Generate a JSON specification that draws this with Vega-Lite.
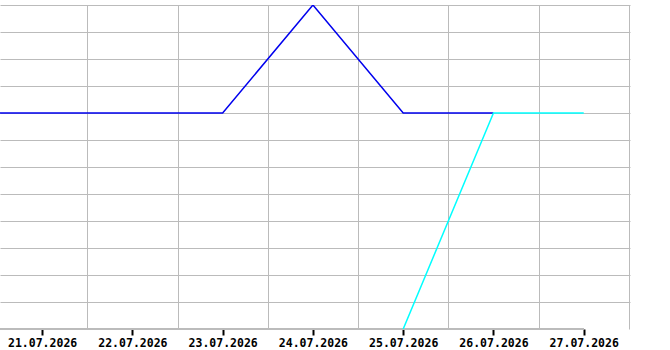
{
  "$schema": "https://vega.github.io/schema/vega-lite/v6.json",
  "width": 630,
  "height": 324,
  "autosize": {"type": "none"},
  "padding": {"left": 0, "top": 5, "right": 40, "bottom": 21},
  "background": "white",
  "config": {
    "view": {"stroke": null},
    "axis": {
      "gridColor": "#bbbbbb",
      "gridWidth": 1,
      "gridOpacity": 1,
      "labelFont": "DejaVu Sans Mono",
      "labelFontWeight": "bold",
      "labelFontSize": 11.5,
      "labelColor": "#000000",
      "tickColor": "#000000",
      "tickSize": 6,
      "tickWidth": 2,
      "labelPadding": 2,
      "title": null
    }
  },
  "datasets": {
    "series": [
      {"date": "2026-07-20T00:00:00Z", "value": 8, "series": "A"},
      {"date": "2026-07-21T00:00:00Z", "value": 8, "series": "A"},
      {"date": "2026-07-22T00:00:00Z", "value": 8, "series": "A"},
      {"date": "2026-07-23T00:00:00Z", "value": 8, "series": "A"},
      {"date": "2026-07-24T00:00:00Z", "value": 12, "series": "A"},
      {"date": "2026-07-25T00:00:00Z", "value": 8, "series": "A"},
      {"date": "2026-07-26T00:00:00Z", "value": 8, "series": "A"},
      {"date": "2026-07-25T00:00:00Z", "value": 0, "series": "B"},
      {"date": "2026-07-26T00:00:00Z", "value": 8, "series": "B"},
      {"date": "2026-07-27T00:00:00Z", "value": 8, "series": "B"}
    ]
  },
  "resolve": {"axis": {"x": "independent"}},
  "layer": [
    {
      "data": {"name": "series"},
      "mark": {"type": "rule", "color": "#bbbbbb", "strokeWidth": 1},
      "encoding": {
        "x": {
          "datum": {"year": 2026, "month": 7, "date": 20, "utc": true},
          "type": "temporal",
          "scale": {
            "type": "utc",
            "domain": [
              {"year": 2026, "month": 7, "date": 20, "hours": 12, "minutes": 48, "utc": true},
              {"year": 2026, "month": 7, "date": 27, "hours": 12, "minutes": 18, "utc": true}
            ]
          },
          "axis": {
            "grid": false,
            "domain": false,
            "ticks": true,
            "labels": true,
            "labelExpr": "utcFormat(datum.value, '%d.%m.%Y')",
            "values": [
              {"year": 2026, "month": 7, "date": 21, "utc": true},
              {"year": 2026, "month": 7, "date": 22, "utc": true},
              {"year": 2026, "month": 7, "date": 23, "utc": true},
              {"year": 2026, "month": 7, "date": 24, "utc": true},
              {"year": 2026, "month": 7, "date": 25, "utc": true},
              {"year": 2026, "month": 7, "date": 26, "utc": true},
              {"year": 2026, "month": 7, "date": 27, "utc": true}
            ],
            "labelFlush": false,
            "labelOverlap": false
          }
        },
        "x2": {"datum": {"year": 2026, "month": 7, "date": 27, "utc": true}},
        "y": {
          "datum": 0,
          "type": "quantitative",
          "axis": {
            "grid": true,
            "domain": false,
            "ticks": false,
            "labels": false,
            "values": [1, 2, 3, 4, 5, 6, 7, 8, 9, 10, 11, 12]
          }
        }
      }
    },
    {
      "data": {"name": "series"},
      "mark": {"type": "line", "strokeWidth": 1.5, "clip": true},
      "encoding": {
        "x": {
          "field": "date",
          "type": "temporal",
          "axis": {
            "grid": true,
            "domain": false,
            "ticks": false,
            "labels": false,
            "values": [
              {"year": 2026, "month": 7, "date": 21, "hours": 12, "utc": true},
              {"year": 2026, "month": 7, "date": 22, "hours": 12, "utc": true},
              {"year": 2026, "month": 7, "date": 23, "hours": 12, "utc": true},
              {"year": 2026, "month": 7, "date": 24, "hours": 12, "utc": true},
              {"year": 2026, "month": 7, "date": 25, "hours": 12, "utc": true},
              {"year": 2026, "month": 7, "date": 26, "hours": 12, "utc": true},
              {"year": 2026, "month": 7, "date": 27, "hours": 12, "utc": true}
            ]
          }
        },
        "y": {
          "field": "value",
          "type": "quantitative",
          "scale": {"domain": [0, 12], "nice": false, "zero": true},
          "axis": {
            "grid": true,
            "domain": false,
            "ticks": false,
            "labels": false,
            "values": [1, 2, 3, 4, 5, 6, 7, 8, 9, 10, 11, 12]
          }
        },
        "color": {
          "field": "series",
          "type": "nominal",
          "scale": {"domain": ["A", "B"], "range": ["#0000ee", "#00ffff"]},
          "legend": null
        }
      }
    }
  ]
}
